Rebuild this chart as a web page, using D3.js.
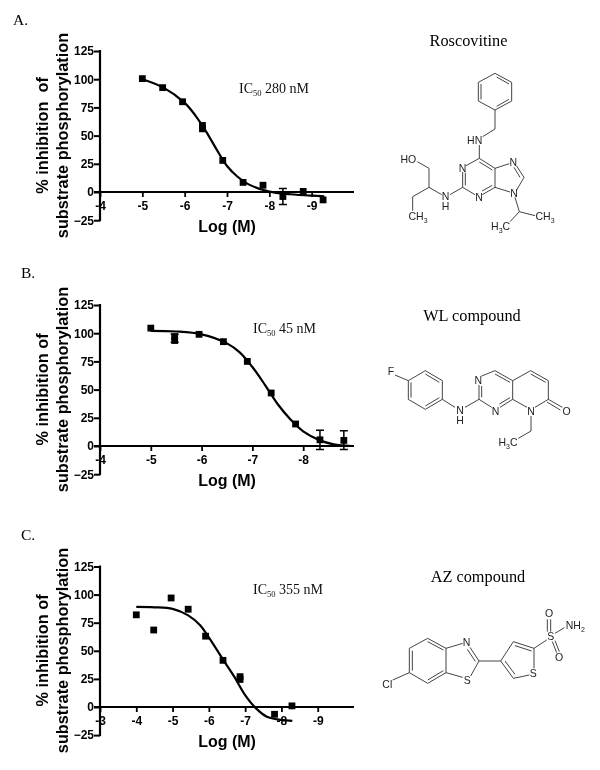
<!DOCTYPE html>
<html><head><meta charset="utf-8">
<script src="https://cdn.jsdelivr.net/npm/d3@7/dist/d3.min.js"></script>
<style>html,body{margin:0;padding:0;background:#fff}svg{display:block;filter:blur(0.35px)}</style>
</head><body><svg id="c" width="600" height="770"></svg>
<script>
// ---- chart data (x = log molar concentration) ----
const yTicks = [125, 100, 75, 50, 25, 0, -25];
const xTicksA = [-4, -5, -6, -7, -8, -9];
const xTicksB = [-4, -5, -6, -7, -8];
const xTicksC = [-3, -4, -5, -6, -7, -8, -9];

const pointsAx = [-5, -5.48, -5.95, -6.42, -6.42, -6.9, -7.38, -7.85, -8.32, -8.8, -9.27];
const pointsAy = [100.5, 92.5, 80, 59, 56, 28, 8.5, 6, -4, 0.5, -7];
const errorsA = [[-8.32, -11, 3]];
const curveAx = [-5, -5.5, -6, -6.25, -6.5, -6.75, -7, -7.25, -7.5, -8, -8.5, -9, -9.3];
const curveAy = [100, 92.5, 79, 68, 54, 38, 23, 13.5, 7, 0.3, -2, -3.3, -3.8];

const pointsBx = [-5, -5.47, -5.47, -5.95, -6.43, -6.9, -7.37, -7.85, -8.33, -8.8];
const pointsBy = [104.5, 97, 93.5, 99, 92.5, 75, 47, 19.5, 5.5, 5];
const errorsB = [[-5.47, 92, 99], [-8.33, -3, 14], [-8.8, -3, 13.5]];
const curveBx = [-5, -5.5, -6, -6.5, -6.75, -7, -7.25, -7.5, -7.75, -8, -8.33, -8.6, -8.95];
const curveBy = [102, 101.5, 99, 91, 83, 70, 54, 37, 23.5, 13, 5, 1.5, 0];

const pointsCx = [-4, -4.48, -4.96, -5.43, -5.91, -6.39, -6.86, -6.86, -7.81, -8.29];
const pointsCy = [82, 68.5, 97, 87, 63, 41.5, 27, 24.5, -6.5, 1];
const errorsC = [];
const curveCx = [-4, -4.5, -5, -5.43, -5.76, -5.99, -6.4, -6.7, -7, -7.3, -7.6, -8, -8.3];
const curveCy = [89, 88.7, 87.3, 81.5, 72.7, 62.4, 41.7, 27, 10.6, -1.2, -8.6, -11.5, -12.4];

// ---- panel frames ----
const panels = [
  {letter:"A.", lx:13, ly:25, xDom:[-4,-10], yTop:51, y0:192, yBot:220.5, ticks:xTicksA,
   px:pointsAx, py:pointsAy, err:errorsA, cx:curveAx, cy:curveAy, yl:"% inhibition  of",
   ic:"280 nM", icx:239, icy:93},
  {letter:"B.", lx:21, ly:278, xDom:[-4,-9], yTop:305, y0:446, yBot:475, ticks:xTicksB,
   px:pointsBx, py:pointsBy, err:errorsB, cx:curveBx, cy:curveBy, yl:"% inhibition of",
   ic:"45 nM", icx:253, icy:333},
  {letter:"C.", lx:21, ly:540, xDom:[-3,-10], yTop:566.5, y0:707, yBot:736, ticks:xTicksC,
   px:pointsCx, py:pointsCy, err:errorsC, cx:curveCx, cy:curveCy, yl:"% inhibition of",
   ic:"355 nM", icx:253, icy:594}
];
const svg = d3.select("#c");
const sans = "'Liberation Sans', Arial, sans-serif", serif = "'Liberation Serif', 'Times New Roman', serif";
const xLeft = 100, xRight = 354;

panels.forEach(p => {
  const x = d3.scaleLinear().domain(p.xDom).range([xLeft, xRight]);
  const y = d3.scaleLinear().domain([125, 0]).range([p.yTop, p.y0]);
  const g = svg.append("g");
  const yAxis = d3.axisLeft(y).tickValues(yTicks).tickSize(6).tickPadding(0).tickFormat(d3.format("d"));
  const ga = g.append("g").attr("transform", `translate(${xLeft},0)`).call(yAxis);
  ga.select(".domain").attr("stroke-width", 2.2).attr("d", `M0,${y(125)-1}V${y(-25)+1}`);
  ga.selectAll("line").attr("stroke-width", 2);
  ga.selectAll("text").attr("font-family", sans).attr("font-weight", "bold").attr("font-size", 12).attr("fill", "#000");
  const xAxis = d3.axisBottom(x).tickValues(p.ticks).tickSize(5).tickPadding(4).tickFormat(d => String(d));
  const gx = g.append("g").attr("transform", `translate(0,${p.y0})`).call(xAxis);
  gx.select(".domain").attr("stroke-width", 2.2).attr("d", `M${xLeft-6},0H${xRight}`);
  gx.selectAll("line").attr("stroke-width", 1.8);
  gx.selectAll("text").attr("font-family", sans).attr("font-weight", "bold").attr("font-size", 12).attr("fill", "#000");

  // curve
  const line = d3.line().x(d => x(d[0])).y(d => y(d[1])).curve(d3.curveCatmullRom.alpha(0.5));
  g.append("path").datum(d3.zip(p.cx, p.cy)).attr("d", line).attr("fill", "none").attr("stroke", "#000").attr("stroke-width", 2.2);

  // error bars
  p.err.forEach(e => {
    g.append("path").attr("fill", "none").attr("stroke", "#000").attr("stroke-width", 1.5)
      .attr("d", `M${x(e[0])},${y(e[1])}V${y(e[2])}M${x(e[0])-4},${y(e[1])}h8M${x(e[0])-4},${y(e[2])}h8`);
  });
  // points
  g.selectAll("rect.pt").data(d3.zip(p.px, p.py)).join("rect").attr("class", "pt")
    .attr("x", d => x(d[0]) - 3.4).attr("y", d => y(d[1]) - 3.4).attr("width", 6.8).attr("height", 6.8).attr("fill", "#000");

  // labels
  g.append("text").attr("x", p.lx).attr("y", p.ly).attr("font-family", serif).attr("font-size", 15.5).text(p.letter);
  g.append("text").attr("x", 227).attr("y", p.y0 + 40).attr("text-anchor", "middle").attr("font-family", sans)
    .attr("font-weight", "bold").attr("font-size", 16).text("Log (M)");
  const cy = p.y0 - 56.5;
  g.append("text").attr("transform", `translate(48,${cy}) rotate(-90)`).attr("text-anchor", "middle").style("white-space","pre")
    .attr("font-family", sans).attr("font-weight", "bold").attr("font-size", 16.3).text(p.yl);
  g.append("text").attr("transform", `translate(68,${cy}) rotate(-90)`).attr("text-anchor", "middle")
    .attr("font-family", sans).attr("font-weight", "bold").attr("font-size", 16.3).text("substrate phosphorylation");
  const ic = g.append("text").attr("x", p.icx).attr("y", p.icy).attr("font-family", serif).attr("font-size", 14).attr("fill", "#111");
  ic.append("tspan").text("IC");
  ic.append("tspan").attr("font-size", 8.5).attr("dy", 3).text("50");
  ic.append("tspan").attr("dy", -3).text(" " + p.ic);
});

// ---- compound names ----
const names = [["Roscovitine", 468.5, 46], ["WL compound", 472, 321], ["AZ compound", 478, 582]];
svg.selectAll("text.nm").data(names).join("text").attr("class", "nm").attr("x", d => d[1]).attr("y", d => d[2])
  .attr("text-anchor", "middle").attr("font-family", serif).attr("font-size", 16.3).text(d => d[0]);

// ---- structures: bonds and atom labels in a 3x drawing grid ----
const rosBonds = [[345,160,395,187],[395,187,395,243],[395,243,345,270],[345,270,295,243],[295,243,295,187],[295,187,345,160],
 [303,192,303,238],[350,171,387,192],[387,238,350,259],[345,270,345,327],[345,327,308,350],[298,375,298,415],
 [298,415,258,437],[248,456,248,502],[256,458,256,496],[248,502,285,524],[307,524,345,502],[306,513,337,496],[345,502,345,445],
 [298,415,345,445],[298,426,337,450],[345,445,388,431],[410,438,432,472],[402,442,420,472],[432,472,410,510],[345,502,390,516],
 [405,532,418,575],[418,575,465,587],[418,575,390,605],[248,502,210,524],[185,524,147,502],[147,502,147,445],[147,445,112,425],
 [147,502,98,530],[98,530,98,572]];
const rosAtoms = [["HN",284,360],["N",248,446],["N",297,532],["N",400,427],["N",402,520],["N",197,530],["H",197,558],["HO",85,417]];
const rosSub = [["CH",114,590,"3",""],["CH",495,590,"3",""],["H",362,620,"3","C"]];

const wlBonds = [[45,225,85,242],[85,242,136,212],[136,212,187,242],[187,242,187,298],[187,298,136,328],[136,328,85,298],[85,298,85,242],
 [93,247,93,293],[136,222,178,247],[178,293,136,318],[187,298,225,322],[255,322,297,298],[297,298,297,255],[305,292,305,258],
 [305,228,345,212],[345,212,398,242],[345,222,390,247],[398,242,398,298],[398,298,360,322],[390,293,358,312],[335,322,297,298],
 [398,242,452,212],[452,212,505,242],[452,222,497,247],[505,242,505,298],[505,298,465,322],[398,298,441,322],[505,298,547,322],[501,306,541,330],
 [453,348,453,393],[453,393,415,415]];
const wlAtoms = [["F",33,213],["N",240,332],["H",240,362],["N",295,242],["N",347,335],["N",453,335],["O",560,335]];
const wlSub = [["H",384,426,"3","C"]];

const azBonds = [[38,360,88,338],[88,338,88,265],[88,265,143,235],[143,235,198,265],[198,265,198,338],[198,338,143,370],[143,370,88,338],
 [97,272,97,332],[143,245,190,270],[190,332,143,360],[198,265,248,250],[270,262,297,303],[262,268,286,304],[297,303,272,348],[248,352,198,338],
 [297,303,362,303],[362,303,400,245],[400,245,462,265],[405,257,455,273],[462,265,462,325],[448,345,400,355],[400,355,362,303],[405,343,375,303],
 [462,265,500,240],[502,178,502,215],[512,178,512,215],[517,245,530,278],[525,242,538,275],[525,220,553,203]];
const azAtoms = [["Cl",22,372],["N",260,248],["S",262,362],["S",460,340],["S",512,230],["O",507,160],["O",537,292]];
const azSub = [["NH",586,195,"2",""]];

function drawMol(ox, oy, bonds, atoms, subs) {
  const sx = d3.scaleLinear().domain([0, 3]).range([ox, ox + 1]);
  const sy = d3.scaleLinear().domain([0, 3]).range([oy, oy + 1]);
  const g = svg.append("g");
  g.selectAll("line").data(bonds).join("line")
    .attr("x1", d => sx(d[0])).attr("y1", d => sy(d[1])).attr("x2", d => sx(d[2])).attr("y2", d => sy(d[3]))
    .attr("stroke", "#222").attr("stroke-width", 0.85);
  g.selectAll("text.a").data(atoms).join("text").attr("class", "a")
    .attr("x", d => sx(d[1])).attr("y", d => sy(d[2])).attr("dy", "0.36em").attr("text-anchor", "middle")
    .attr("font-family", sans).attr("font-size", 10.5).attr("fill", "#222").text(d => d[0]);
  subs.forEach(s => {
    const t = g.append("text").attr("x", sx(s[1])).attr("y", sy(s[2])).attr("dy", "0.36em").attr("text-anchor", "middle")
      .attr("font-family", sans).attr("font-size", 10.5).attr("fill", "#222");
    t.append("tspan").text(s[0]);
    t.append("tspan").attr("font-size", 7).attr("dy", 3).text(s[3]);
    if (s[4]) t.append("tspan").attr("dy", -3).text(s[4]);
  });
}
drawMol(380, 20, rosBonds, rosAtoms, rosSub);
drawMol(380, 300, wlBonds, wlAtoms, wlSub);
drawMol(380, 560, azBonds, azAtoms, azSub);
</script></body></html>
